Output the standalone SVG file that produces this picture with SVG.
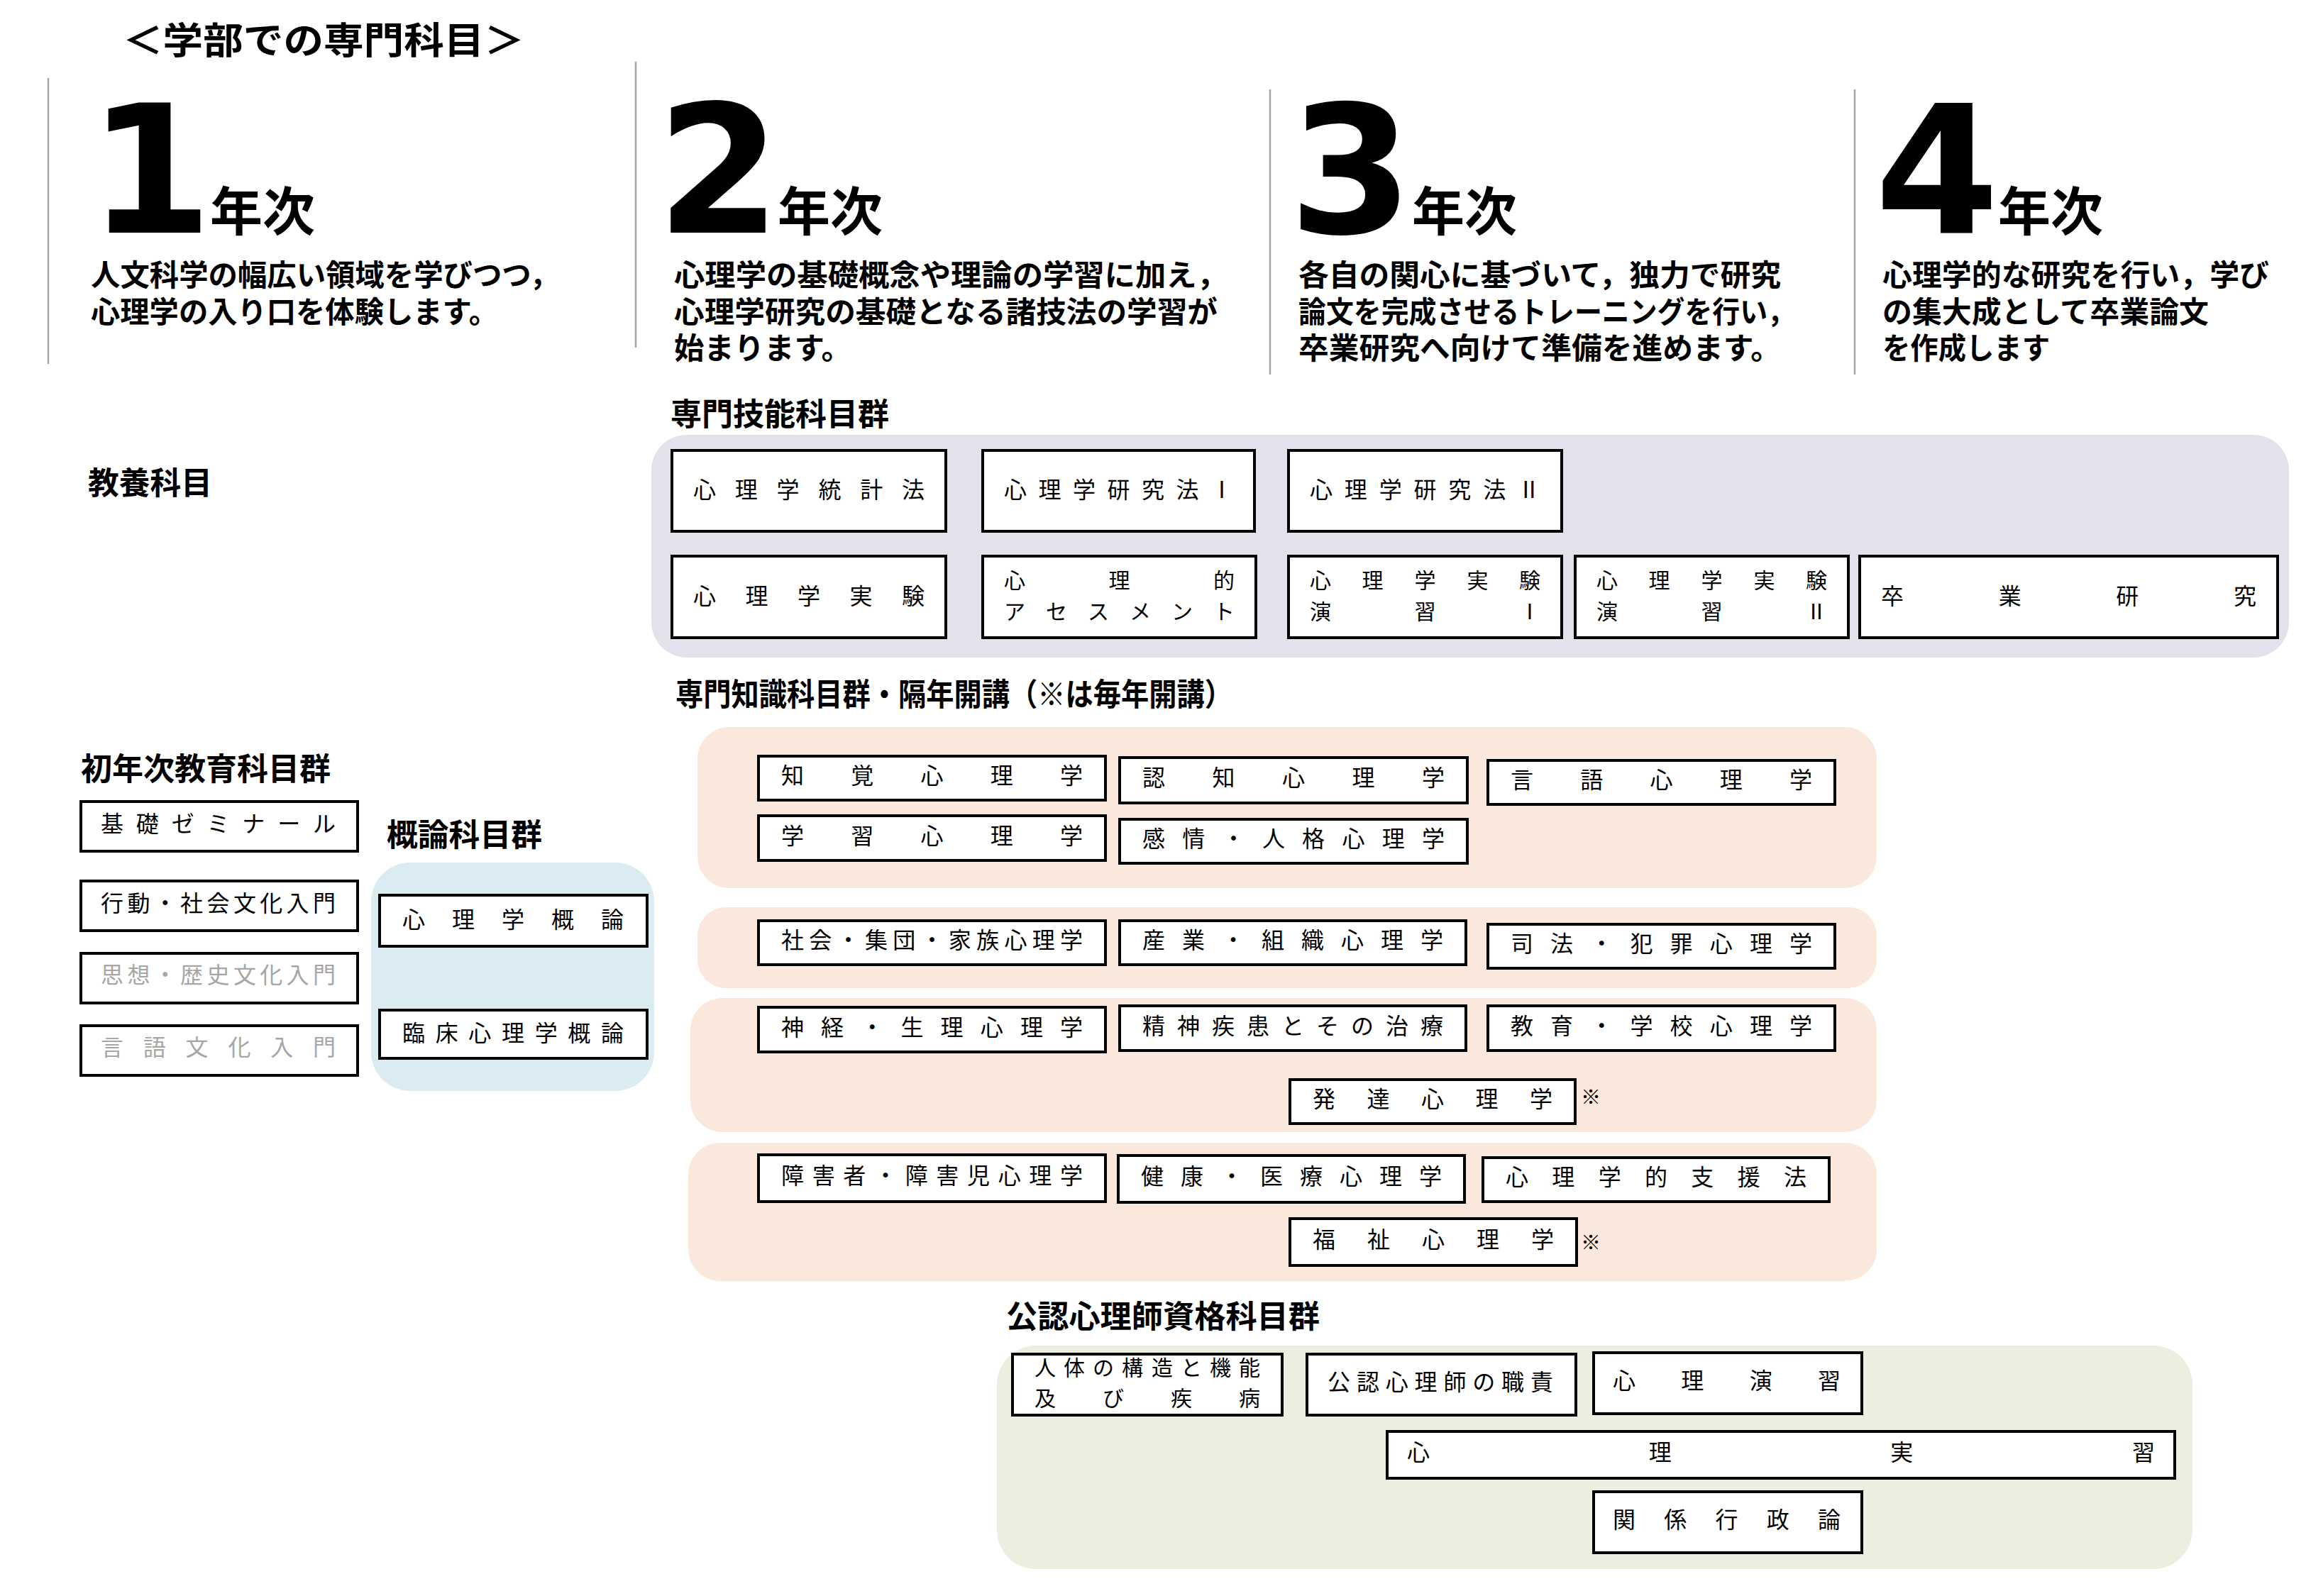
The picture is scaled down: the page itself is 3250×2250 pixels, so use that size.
<svg xmlns="http://www.w3.org/2000/svg" width="3250" height="2250" viewBox="0 0 3250 2250">
<style>
text{font-family:"Liberation Sans","Noto Sans CJK JP","Noto Sans CJK SC",sans-serif;}
.title{font-weight:700;font-size:52px;fill:#000}
.lbl{font-weight:700;font-size:44px;fill:#000}
.desc{font-weight:700;font-size:42px;fill:#000}
.num{font-family:"DejaVu Sans","Liberation Sans",sans-serif;font-weight:700;font-size:252px;text-anchor:middle;fill:#000}
.nen{font-weight:700;font-size:74px;fill:#000}
.sep{stroke:#a6a6a6;stroke-width:2.5;fill:none}
.box{fill:#fff;stroke:#000;stroke-width:4}
.bt{font-size:32px;font-weight:400;text-anchor:middle;fill:#000}
.bt2{font-size:30px;font-weight:400;text-anchor:middle;fill:#000}
.gray{fill:#a6a6a6}
.note{font-size:28px;font-weight:400;text-anchor:middle;fill:#000}
.purple{fill:#e4e0ec}
.peach{fill:#fbe8dc}
.blue{fill:#daebf1}
.green{fill:#ebefdf}
</style>

<rect x="0" y="0" width="3250" height="2250" fill="#fff"/>

<g id="header">
<text class="title" x="173" y="76" textLength="566" lengthAdjust="spacingAndGlyphs">＜学部での専門科目＞</text>
<line class="sep" x1="68" y1="110" x2="68" y2="513"/>
<line class="sep" x1="896" y1="87" x2="896" y2="490"/>
<line class="sep" x1="1790" y1="126" x2="1790" y2="528"/>
<line class="sep" x1="2614" y1="126" x2="2614" y2="528"/>
</g>

<g id="year1">
<text class="num" x="212" y="328">1</text>
<text class="nen" x="296" y="325">年次</text>
<text class="desc"><tspan x="128" y="403" textLength="660" lengthAdjust="spacingAndGlyphs">人文科学の幅広い領域を学びつつ，</tspan><tspan x="128" y="455" textLength="574" lengthAdjust="spacingAndGlyphs">心理学の入り口を体験します。</tspan></text>
</g>

<g id="year2">
<text class="num" x="1013" y="328">2</text>
<text class="nen" x="1096" y="325">年次</text>
<text class="desc"><tspan x="950" y="403" textLength="780" lengthAdjust="spacingAndGlyphs">心理学の基礎概念や理論の学習に加え，</tspan><tspan x="950" y="455" textLength="766" lengthAdjust="spacingAndGlyphs">心理学研究の基礎となる諸技法の学習が</tspan><tspan x="950" y="506" textLength="250" lengthAdjust="spacingAndGlyphs">始まります。</tspan></text>
</g>

<g id="year3">
<text class="num" x="1904" y="328">3</text>
<text class="nen" x="1990" y="325">年次</text>
<text class="desc"><tspan x="1830" y="403" textLength="680" lengthAdjust="spacingAndGlyphs">各自の関心に基づいて，独力で研究</tspan><tspan x="1830" y="455" textLength="700" lengthAdjust="spacingAndGlyphs">論文を完成させるトレーニングを行い，</tspan><tspan x="1830" y="506" textLength="680" lengthAdjust="spacingAndGlyphs">卒業研究へ向けて準備を進めます。</tspan></text>
</g>

<g id="year4">
<text class="num" x="2730" y="328">4</text>
<text class="nen" x="2816" y="325">年次</text>
<text class="desc"><tspan x="2653" y="403" textLength="545" lengthAdjust="spacingAndGlyphs">心理学的な研究を行い，学び</tspan><tspan x="2653" y="455" textLength="460" lengthAdjust="spacingAndGlyphs">の集大成として卒業論文</tspan><tspan x="2653" y="506" textLength="236" lengthAdjust="spacingAndGlyphs">を作成します</tspan></text>
</g>

<g id="kyoyo">
<text class="lbl" x="124" y="697" textLength="175" lengthAdjust="spacingAndGlyphs">教養科目</text>
</g>

<!-- 専門技能科目群 -->
<g id="skill-group">
<text class="lbl" x="945" y="600" textLength="308" lengthAdjust="spacingAndGlyphs">専門技能科目群</text>
<rect class="purple" x="918" y="613" width="2308" height="314" rx="50" ry="50"/>
</g>
<g id="n-toukei">
<rect class="box" x="947" y="635" width="386" height="114"/>
<text class="bt" x="993 1051.8 1110.6 1169.4 1228.2 1287" y="702">心理学統計法</text>
</g>
<g id="n-kenkyuho1">
<rect class="box" x="1385" y="635" width="383" height="114"/>
<text class="bt" x="1431 1479.5 1528 1576.5 1625 1673.5 1722" y="702">心理学研究法Ⅰ</text>
</g>
<g id="n-kenkyuho2">
<rect class="box" x="1816" y="635" width="385" height="114"/>
<text class="bt" x="1862 1910.8 1959.7 2008.5 2057.3 2106.2 2155" y="702">心理学研究法Ⅱ</text>
</g>
<g id="n-jikken">
<rect class="box" x="947" y="784" width="386" height="115"/>
<text class="bt" x="993 1066.5 1140 1213.5 1287" y="852">心理学実験</text>
</g>
<g id="n-assessment">
<rect class="box" x="1385" y="784" width="385" height="115"/>
<text class="bt2"><tspan x="1430 1577.5 1725" y="829">心理的</tspan><tspan x="1430 1489 1548 1607 1666 1725" y="873">アセスメント</tspan></text>
</g>
<g id="n-jikkenensyu1">
<rect class="box" x="1816" y="784" width="385" height="115"/>
<text class="bt2"><tspan x="1861 1934.5 2008.5 2082.5 2156" y="829">心理学実験</tspan><tspan x="1861 2008.5 2156" y="873">演習Ⅰ</tspan></text>
</g>
<g id="n-jikkenensyu2">
<rect class="box" x="2220" y="784" width="385" height="115"/>
<text class="bt2"><tspan x="2265 2338.5 2412.5 2486.5 2560" y="829">心理学実験</tspan><tspan x="2265 2412.5 2560" y="873">演習Ⅱ</tspan></text>
</g>
<g id="n-sotsuken">
<rect class="box" x="2621" y="784" width="589" height="115"/>
<text class="bt" x="2667 2832.7 2998.3 3164" y="852">卒業研究</text>
</g>

<!-- 初年次教育科目群 -->
<g id="first-year-group">
<text class="lbl" x="114" y="1100" textLength="352" lengthAdjust="spacingAndGlyphs">初年次教育科目群</text>
</g>
<g id="n-kiso">
<rect class="box" x="114" y="1130" width="390" height="70"/>
<text class="bt" x="158 207.8 257.7 307.5 357.3 407.2 457" y="1173">基礎ゼミナール</text>
</g>
<g id="n-koudou">
<rect class="box" x="114" y="1242" width="390" height="70"/>
<text class="bt" x="158 195.4 232.75 270.1 307.5 344.9 382.25 419.6 457" y="1285">行動・社会文化入門</text>
</g>
<g id="n-shisou">
<rect class="box" x="114" y="1344" width="390" height="70"/>
<text class="bt gray" x="158 195.4 232.75 270.1 307.5 344.9 382.25 419.6 457" y="1386">思想・歴史文化入門</text>
</g>
<g id="n-gengobunka">
<rect class="box" x="114" y="1446" width="390" height="70"/>
<text class="bt gray" x="158 217.8 277.6 337.4 397.2 457" y="1488">言語文化入門</text>
</g>

<!-- 概論科目群 -->
<g id="intro-group">
<text class="lbl" x="545" y="1193" textLength="219" lengthAdjust="spacingAndGlyphs">概論科目群</text>
<rect class="blue" x="523" y="1216" width="399" height="322" rx="55" ry="55"/>
</g>
<g id="n-gairon">
<rect class="box" x="535" y="1262" width="377" height="72"/>
<text class="bt" x="583 653 723 793 863" y="1308">心理学概論</text>
</g>
<g id="n-rinsho">
<rect class="box" x="535" y="1424" width="377" height="68"/>
<text class="bt" x="583 629.7 676.3 723 769.7 816.3 863" y="1468">臨床心理学概論</text>
</g>

<!-- 専門知識科目群 -->
<g id="knowledge-group">
<text class="lbl" x="952" y="995" textLength="785" lengthAdjust="spacingAndGlyphs">専門知識科目群・隔年開講（※は毎年開講）</text>
<rect class="peach" x="983" y="1025" width="1662" height="227" rx="45" ry="45"/>
<rect class="peach" x="983" y="1279" width="1662" height="114" rx="40" ry="40"/>
<rect class="peach" x="973" y="1407" width="1672" height="189" rx="45" ry="45"/>
<rect class="peach" x="970" y="1611" width="1675" height="195" rx="45" ry="45"/>
</g>
<g id="n-chikaku">
<rect class="box" x="1069" y="1066" width="489" height="62"/>
<text class="bt" x="1117 1215.25 1313.5 1411.75 1510" y="1105">知覚心理学</text>
</g>
<g id="n-ninchi">
<rect class="box" x="1578" y="1068" width="490" height="64"/>
<text class="bt" x="1626 1724.5 1823 1921.5 2020" y="1108">認知心理学</text>
</g>
<g id="n-gengo">
<rect class="box" x="2097" y="1072" width="489" height="62"/>
<text class="bt" x="2145 2243.25 2341.5 2439.75 2538" y="1111">言語心理学</text>
</g>
<g id="n-gakushu">
<rect class="box" x="1069" y="1150" width="489" height="63"/>
<text class="bt" x="1117 1215.25 1313.5 1411.75 1510" y="1190">学習心理学</text>
</g>
<g id="n-kanjo">
<rect class="box" x="1578" y="1155" width="490" height="62"/>
<text class="bt" x="1626 1682.3 1738.6 1794.9 1851.1 1907.4 1963.7 2020" y="1194">感情・人格心理学</text>
</g>
<g id="n-shakai">
<rect class="box" x="1069" y="1298" width="489" height="62"/>
<text class="bt" x="1117 1156.3 1195.6 1234.9 1274.2 1313.5 1352.8 1392.1 1431.4 1470.7 1510" y="1337">社会・集団・家族心理学</text>
</g>
<g id="n-sangyo">
<rect class="box" x="1578" y="1298" width="488" height="62"/>
<text class="bt" x="1626 1682 1738 1794 1850 1906 1962 2018" y="1337">産業・組織心理学</text>
</g>
<g id="n-shiho">
<rect class="box" x="2097" y="1303" width="489" height="62"/>
<text class="bt" x="2145 2201.1 2257.3 2313.4 2369.6 2425.7 2481.9 2538" y="1342">司法・犯罪心理学</text>
</g>
<g id="n-shinkei">
<rect class="box" x="1069" y="1420" width="489" height="63"/>
<text class="bt" x="1117 1173.1 1229.3 1285.4 1341.6 1397.7 1453.9 1510" y="1460">神経・生理心理学</text>
</g>
<g id="n-seishin">
<rect class="box" x="1578" y="1418" width="488" height="63"/>
<text class="bt" x="1626 1675 1724 1773 1822 1871 1920 1969 2018" y="1458">精神疾患とその治療</text>
</g>
<g id="n-kyoiku">
<rect class="box" x="2097" y="1418" width="489" height="63"/>
<text class="bt" x="2145 2201.1 2257.3 2313.4 2369.6 2425.7 2481.9 2538" y="1458">教育・学校心理学</text>
</g>
<g id="n-hattatsu">
<rect class="box" x="1818" y="1522" width="402" height="62"/>
<text class="bt" x="1866 1942.5 2019 2095.5 2172" y="1561">発達心理学</text>
<text class="note" x="2242" y="1557">※</text>
</g>
<g id="n-shogai">
<rect class="box" x="1069" y="1628" width="489" height="66"/>
<text class="bt" x="1117 1160.7 1204.3 1248 1291.7 1335.3 1379 1422.7 1466.3 1510" y="1669">障害者・障害児心理学</text>
</g>
<g id="n-kenko">
<rect class="box" x="1576" y="1629" width="488" height="66"/>
<text class="bt" x="1624 1680 1736 1792 1848 1904 1960 2016" y="1670">健康・医療心理学</text>
</g>
<g id="n-shien">
<rect class="box" x="2090" y="1632" width="488" height="62"/>
<text class="bt" x="2138 2203.3 2268.7 2334 2399.3 2464.7 2530" y="1671">心理学的支援法</text>
</g>
<g id="n-fukushi">
<rect class="box" x="1818" y="1718" width="404" height="66"/>
<text class="bt" x="1866 1943 2020 2097 2174" y="1759">福祉心理学</text>
<text class="note" x="2242" y="1762">※</text>
</g>

<!-- 公認心理師資格科目群 -->
<g id="license-group">
<text class="lbl" x="1418" y="1872" textLength="442" lengthAdjust="spacingAndGlyphs">公認心理師資格科目群</text>
<rect class="green" x="1405" y="1897" width="1685" height="315" rx="55" ry="55"/>
</g>
<g id="n-jintai">
<rect class="box" x="1427" y="1909" width="380" height="86"/>
<text class="bt2"><tspan x="1473 1514 1555 1596 1638 1679 1720 1761" y="1939">人体の構造と機能</tspan><tspan x="1473 1569 1665 1761" y="1982">及び疾病</tspan></text>
</g>
<g id="n-shokuseki">
<rect class="box" x="1842" y="1909" width="379" height="86"/>
<text class="bt" x="1887 1927.9 1968.7 2009.6 2050.4 2091.3 2132.1 2173" y="1960">公認心理師の職責</text>
</g>
<g id="n-enshu">
<rect class="box" x="2246" y="1907" width="378" height="86"/>
<text class="bt" x="2289 2385.3 2481.7 2578" y="1958">心理演習</text>
</g>
<g id="n-jisshu">
<rect class="box" x="1955" y="2018" width="1110" height="66"/>
<text class="bt" x="1999 2339.7 2680.3 3021" y="2059">心理実習</text>
</g>
<g id="n-gyosei">
<rect class="box" x="2246" y="2103" width="378" height="86"/>
<text class="bt" x="2289 2361.25 2433.5 2505.75 2578" y="2154">関係行政論</text>
</g>
</svg>
